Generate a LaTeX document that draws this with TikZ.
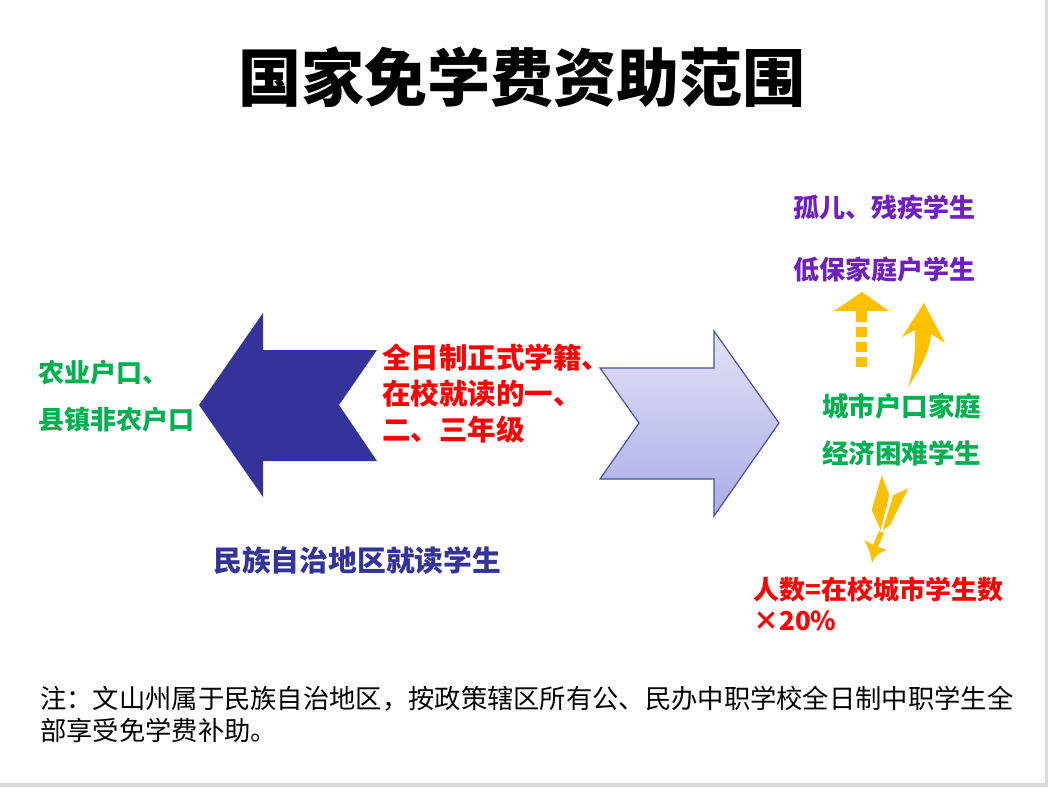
\documentclass[tikz,border=0pt]{standalone}
\usepackage{fontspec}
\setmainfont{Noto Sans CJK SC}
\definecolor{cgreen}{RGB}{0,176,80}
\definecolor{cred}{RGB}{255,0,0}
\definecolor{cnavy}{RGB}{51,51,153}
\definecolor{cpurple}{RGB}{112,32,192}
\definecolor{cyellow}{RGB}{255,192,0}
\definecolor{clight}{RGB}{226,226,247}
\definecolor{cdark}{RGB}{170,172,230}
\definecolor{cedge}{RGB}{75,79,168}
\definecolor{cshadow}{RGB}{218,218,218}
\tikzset{
  lbl/.style={inner sep=0pt, anchor=west, align=left},
  bigarrow/.style={line join=miter},
}
\begin{document}
\begin{tikzpicture}[x=1pt,y=-1pt]
\fill[white] (0,0) rectangle (1048,787);
\useasboundingbox (0,0) rectangle (1048,787);
\fill[cshadow] (1045,0) rectangle (1048,787);
\fill[cshadow] (0,783) rectangle (1048,787);

% title
\node[inner sep=0pt, font=\fontsize{63}{63}\selectfont\bfseries] (title) at (522,77) {国家免学费资助范围};

% left arrow
\fill[cnavy, bigarrow] (199,405) -- (263,313) -- (263,350) -- (377,350) -- (339,405) -- (377,461) -- (263,461) -- (263,497) -- cycle;

% right arrow
\path[draw=cedge, line width=1.2pt, top color=clight, bottom color=cdark, bigarrow]
  (600,368) -- (714,368) -- (714,331) -- (779,423) -- (714,516) -- (714,479) -- (600,479) -- (639,423) -- cycle;

% texts
\node[lbl, text=cgreen, font=\fontsize{26}{47}\selectfont\bfseries] (rural) at (38,396.5) {农业户口、\\县镇非农户口};
\node[lbl, text=cred, font=\fontsize{28.5}{36}\selectfont\bfseries] (grade) at (382,394) {全日制正式学籍、\\在校就读的一、\\二、三年级};
\node[lbl, text=cnavy, font=\fontsize{28.8}{36}\selectfont\bfseries] (minzu) at (213,561) {民族自治地区就读学生};
\node[lbl, text=cpurple, font=\fontsize{26}{30}\selectfont\bfseries] (orphan) at (793,208) {孤儿、残疾学生};
\node[lbl, text=cpurple, font=\fontsize{26}{30}\selectfont\bfseries] (dibao) at (793,270) {低保家庭户学生};
\node[lbl, text=cgreen, font=\fontsize{26.5}{47}\selectfont\bfseries] (urban) at (822,429.5) {城市户口家庭\\经济困难学生};
\node[lbl, text=cred, font=\fontsize{26}{31}\selectfont\bfseries] (count) at (753,603.5) {人数=在校城市学生数\\×20\%};
\node[lbl, text=black, font=\fontsize{26.3}{32}\selectfont] (note) at (40,714) {注：文山州属于民族自治地区，按政策辖区所有公、民办中职学校全日制中职学生全\\部享受免学费补助。};

% dashed up arrow
\fill[cyellow] (834,311) -- (862,292) -- (889,311) -- cycle;
\fill[cyellow] (856,310) rectangle (867,322);
\fill[cyellow] (856,327) rectangle (867,337);
\fill[cyellow] (856,342) rectangle (867,352);
\fill[cyellow] (856,357) rectangle (867,367);

% curved arrow
\fill[cyellow] (908,387) .. controls (921,368) and (930,350) .. (931,334) -- (945,343) -- (924,303) -- (902,337) -- (915,330) .. controls (916,352) and (913,372) .. (908,387) -- cycle;

% feathered arrow
\fill[cyellow] (881.7,475) -- (889.3,495) -- (880.7,530) -- (871.7,510) -- cycle;
\fill[cyellow] (893.3,495) -- (908.3,488.3) -- (890,525) -- (882.7,530) -- cycle;
\fill[cyellow] (879,531) -- (884,533) -- (877,549) -- (872,547) -- cycle;
\fill[cyellow] (864,540) -- (875,546) -- (887,550) .. controls (878,553) and (874,557) .. (872,563) .. controls (871,555) and (868,546) .. (864,540) -- cycle;
\end{tikzpicture}
\end{document}
